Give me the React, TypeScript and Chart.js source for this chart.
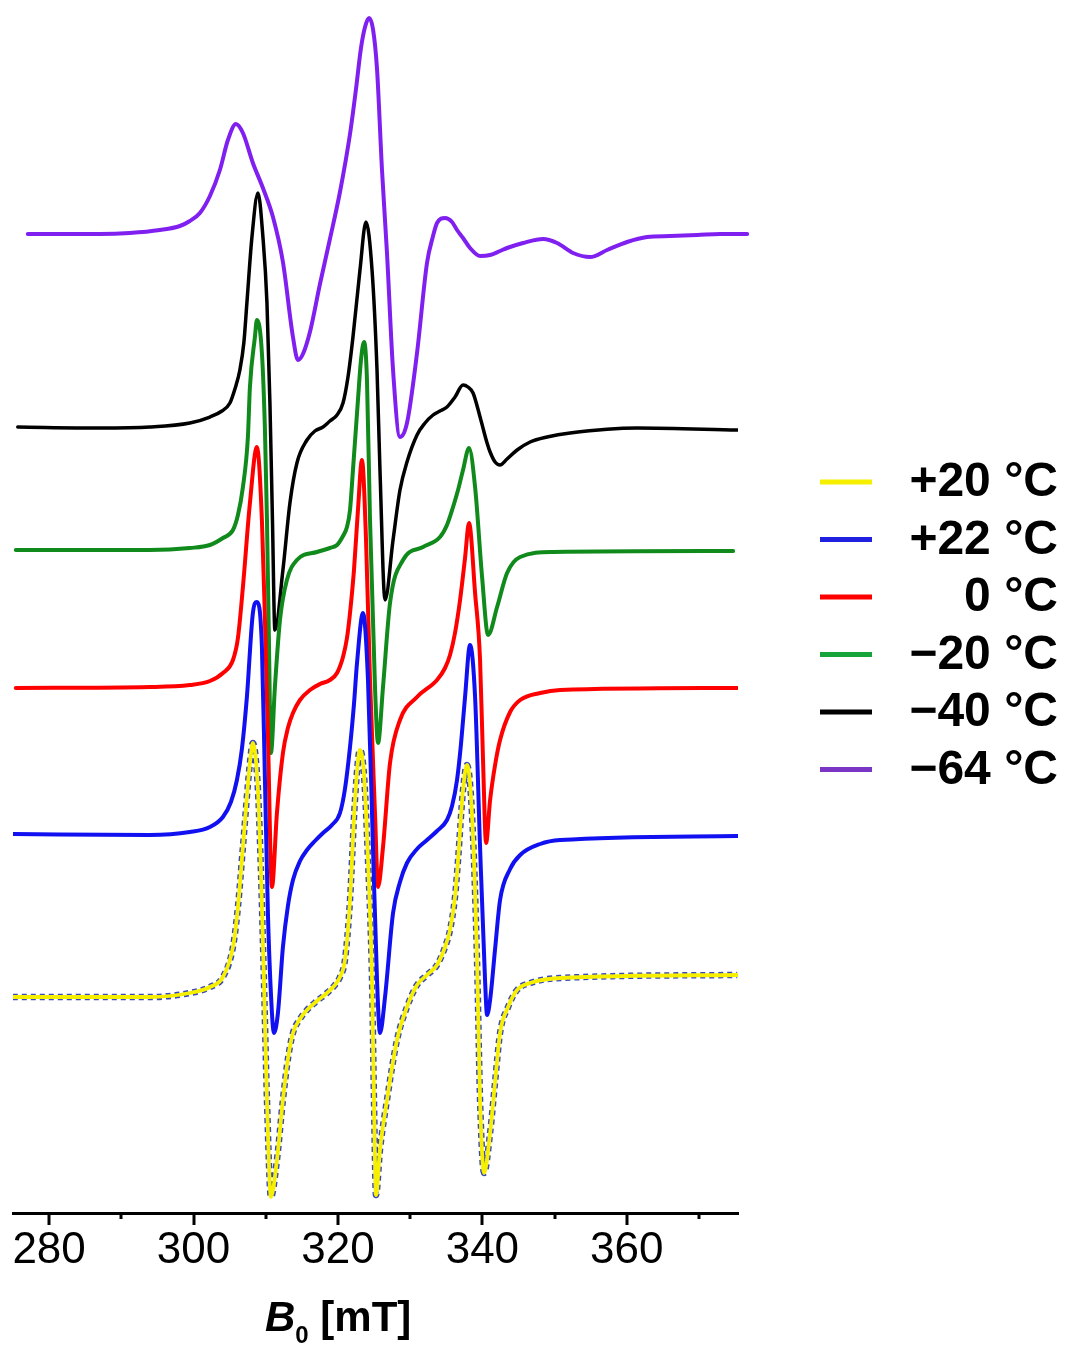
import { useEffect, useRef } from 'react';
import { Chart, registerables } from 'chart.js';

Chart.register(...registerables);

// ---- data (field in mT, signal in arbitrary units relative to each trace's baseline) ----
const fieldM64 = [277.05, 287.02, 291.18, 295.34, 298.11, 299.49, 300.88, 302.27, 303.65, 304.76, 305.87, 306.84, 308.22, 309.61, 311.0, 312.38, 313.77, 314.46, 315.15, 316.12, 317.51, 318.89, 320.28, 321.67, 322.5, 323.19, 323.75, 324.3, 324.85, 325.41, 326.1, 326.79, 327.63, 328.59, 329.56, 330.95, 332.33, 333.17, 333.72, 334.83, 335.8, 336.49, 337.32, 338.29, 339.68, 341.07, 342.45, 343.42, 345.64, 348.41, 350.35, 352.56, 354.92, 357.27, 360.04, 362.81, 366.0, 369.74, 372.93, 376.67];
const signalM64 = [0, 0, 1, 4, 8, 13, 21, 38, 64, 94, 110, 101, 71, 46, 17, -28, -103, -126, -120, -98, -50, -5, 42, 100, 145, 186, 207, 216, 205, 165, 64, -19, -136, -203, -189, -119, -29, -2, 11, 16, 12, 4, -4, -14, -22, -21, -17, -14, -9, -5, -9, -19, -23, -16, -8, -3, -2, -1, 0, 0];

const fieldM40 = [275.66, 287.02, 293.95, 299.49, 302.27, 303.93, 305.04, 305.73, 306.42, 306.98, 307.39, 308.09, 308.92, 309.61, 310.17, 310.58, 310.93, 311.27, 312.38, 313.35, 314.32, 315.71, 316.81, 317.93, 318.89, 319.87, 320.7, 321.39, 322.08, 323.05, 323.88, 324.72, 325.41, 325.82, 326.52, 327.63, 328.59, 329.56, 330.95, 332.06, 333.17, 334.13, 335.1, 336.21, 337.32, 338.01, 338.71, 339.68, 340.65, 341.07, 341.76, 342.45, 343.42, 344.81, 346.61, 348.96, 352.15, 361.43, 375.29];
const signalM40 = [0, -1, 0, 4, 10, 16, 24, 38, 57, 85, 124, 190, 234, 190, 124, 24, -93, -203, -143, -76, -36, -13, -4, 0, 6, 12, 24, 50, 90, 157, 205, 157, 57, -43, -173, -113, -63, -35, -8, 4, 12, 16, 20, 30, 42, 40, 34, 10, -16, -25, -35, -38, -32, -23, -15, -10, -6, -1, -3];

const fieldM20 = [275.39, 293.95, 299.49, 302.27, 304.07, 305.46, 306.15, 306.84, 307.53, 307.81, 308.5, 308.78, 309.47, 309.89, 310.17, 310.44, 310.72, 311.27, 311.97, 312.93, 314.32, 317.09, 318.89, 319.87, 320.7, 321.25, 321.67, 322.08, 322.77, 323.19, 323.61, 324.02, 324.44, 325.13, 325.55, 326.24, 327.21, 329.01, 331.78, 334.13, 335.1, 335.94, 336.63, 337.32, 338.15, 338.99, 339.96, 340.79, 342.04, 343.42, 345.23, 349.79, 374.73];
const signalM20 = [0, 0, 2, 5, 12, 20, 35, 63, 113, 163, 213, 230, 197, 120, 30, -90, -203, -137, -70, -30, -10, -2, 2, 5, 14, 23, 40, 80, 150, 190, 208, 170, 30, -137, -193, -137, -53, -10, 3, 13, 25, 43, 60, 80, 102, 63, -27, -85, -57, -23, -7, -2, -1];

const field0 = [275.39, 293.95, 299.49, 302.27, 304.07, 305.46, 306.15, 306.84, 307.81, 308.78, 309.47, 309.89, 310.3, 310.86, 311.55, 312.38, 313.07, 313.77, 314.74, 316.12, 317.51, 318.89, 319.87, 320.7, 321.25, 321.67, 322.22, 322.77, 323.33, 323.88, 324.44, 325.13, 325.55, 326.24, 327.21, 328.59, 330.95, 333.72, 334.83, 335.52, 336.21, 336.91, 337.6, 338.15, 338.99, 339.68, 340.09, 340.51, 341.07, 341.76, 342.45, 343.84, 345.23, 348.0, 350.76, 375.29];
const signal0 = [0, 1, 3, 7, 15, 28, 50, 101, 185, 241, 168, 68, -46, -199, -125, -65, -40, -25, -12, -2, 4, 8, 15, 31, 50, 75, 118, 178, 228, 150, 8, -125, -199, -159, -75, -32, -9, 8, 20, 33, 55, 88, 130, 165, 95, 28, -72, -155, -112, -77, -52, -24, -12, -5, -2, 0];

const fieldP22 = [275.11, 293.95, 299.49, 302.27, 304.07, 305.18, 306.01, 306.7, 307.39, 308.22, 308.78, 309.47, 309.89, 310.3, 310.86, 311.13, 311.69, 312.38, 313.07, 313.77, 314.74, 315.71, 316.81, 317.93, 319.17, 320.28, 320.97, 321.67, 322.22, 322.64, 323.47, 324.16, 324.85, 325.41, 325.82, 326.52, 327.63, 328.59, 329.56, 330.95, 332.33, 333.72, 335.1, 335.8, 336.49, 337.04, 337.6, 338.29, 338.99, 339.68, 340.37, 340.65, 341.07, 341.76, 342.45, 343.84, 345.23, 348.0, 350.76, 375.29];
const signalP22 = [0, -1, 2, 7, 17, 32, 54, 85, 137, 221, 232, 187, 54, -79, -179, -199, -179, -113, -72, -46, -27, -16, -7, 1, 9, 21, 45, 87, 130, 171, 221, 154, -13, -146, -199, -163, -79, -48, -29, -15, -6, 3, 14, 28, 54, 90, 137, 189, 137, -13, -146, -181, -166, -115, -66, -35, -21, -10, -6, -2];

const fieldP20 = [274.97, 287.02, 293.95, 299.49, 302.27, 304.07, 305.46, 306.15, 306.84, 307.81, 308.22, 308.92, 309.33, 309.75, 310.17, 310.72, 311.55, 312.38, 313.07, 313.77, 314.74, 315.71, 317.09, 318.48, 319.58, 320.28, 320.97, 321.67, 322.36, 323.05, 323.61, 324.16, 324.72, 324.99, 325.27, 325.82, 326.79, 328.18, 329.56, 330.95, 332.33, 333.72, 334.83, 335.52, 336.21, 336.63, 337.32, 337.87, 338.57, 339.26, 339.68, 340.23, 341.07, 341.76, 342.45, 343.56, 344.81, 346.61, 350.76, 375.29];
const signalP20 = [0, 0, 0, 4, 10, 20, 50, 90, 150, 234, 254, 207, 127, 17, -103, -200, -163, -103, -62, -36, -22, -13, -4, 4, 12, 20, 37, 97, 197, 247, 222, 137, 17, -103, -198, -153, -103, -43, -10, 12, 22, 32, 50, 67, 100, 137, 207, 232, 182, 37, -103, -176, -136, -85, -36, -10, 7, 14, 19, 22];

// vertical offsets of the stacked traces (a.u.)
const offsetM64 = 979;
const offsetM40 = 786;
const offsetM20 = 663;
const offset0 = 525;
const offsetP22 = 379;
const offsetP20 = 216;

const legendLabels = ['+20 °C', '+22 °C', '0 °C', '\u221220 °C', '\u221240 °C', '\u221264 °C'];
const legendColors = ['#f6f000', '#2020e0', '#ff0000', '#16a33a', '#000000', '#7a35c4'];

const majorTicks = [280, 300, 320, 340, 360];
const minorTicks = [290, 310, 330, 350, 370];

const FONT = '"Liberation Sans", Arial, Helvetica, sans-serif';

function pts(xs: number[], ys: number[], off: number) {
  return xs.map((x, i) => ({ x, y: off + ys[i] }));
}

const decor = {
  id: 'decor',
  afterDraw(chart: any) {
    const { ctx, chartArea } = chart;
    const xs = chart.scales.x;
    const yb = chartArea.bottom;
    ctx.save();
    ctx.strokeStyle = '#000';
    ctx.lineWidth = 3;
    ctx.lineCap = 'butt';
    for (const v of majorTicks) {
      const px = Math.round(xs.getPixelForValue(v));
      ctx.beginPath();
      ctx.moveTo(px, yb);
      ctx.lineTo(px, yb + 12);
      ctx.stroke();
    }
    for (const v of minorTicks) {
      const px = Math.round(xs.getPixelForValue(v));
      ctx.beginPath();
      ctx.moveTo(px, yb);
      ctx.lineTo(px, yb + 6);
      ctx.stroke();
    }
    // legend
    legendLabels.forEach((lab, i) => {
      const y = 482 + i * 57.5;
      ctx.strokeStyle = legendColors[i];
      ctx.lineWidth = 5;
      ctx.beginPath();
      ctx.moveTo(820, y);
      ctx.lineTo(872, y);
      ctx.stroke();
      ctx.fillStyle = '#000';
      ctx.font = 'bold 48px ' + FONT;
      ctx.textAlign = 'right';
      ctx.textBaseline = 'middle';
      ctx.fillText(lab, 1058, y + 1);
    });
    // axis title: B0 [mT]
    ctx.fillStyle = '#000';
    ctx.textAlign = 'left';
    ctx.textBaseline = 'alphabetic';
    let x = 265;
    const base = 1331;
    ctx.font = 'italic bold 42px ' + FONT;
    ctx.fillText('B', x, base);
    x += ctx.measureText('B').width;
    ctx.font = 'bold 24px ' + FONT;
    ctx.fillText('0', x, base + 12);
    x += ctx.measureText('0').width;
    ctx.font = 'bold 42px ' + FONT;
    ctx.fillText(' [mT]', x, base);
    ctx.restore();
  },
};

export default function App() {
  const ref = useRef<HTMLCanvasElement>(null);
  useEffect(() => {
    if (!ref.current) return;
    const line = (label: string, data: any[], color: string, width: number, extra: any = {}) => ({
      label,
      data,
      borderColor: color,
      backgroundColor: color,
      borderWidth: width,
      pointRadius: 0,
      fill: false,
      cubicInterpolationMode: 'monotone',
      borderCapStyle: 'round',
      borderJoinStyle: 'round',
      ...extra,
    });
    const chart = new Chart(ref.current, {
      type: 'line',
      data: {
        datasets: [
          line('+20 °C', pts(fieldP20, signalP20, offsetP20), '#f6f000', 3.8),
          line('+20 °C sim', pts(fieldP20, signalP20, offsetP20), '#3a48b8', 6.5, { borderDash: [5, 4], borderCapStyle: 'butt' }),
          line('+22 °C', pts(fieldP22, signalP22, offsetP22), '#1010f0', 4),
          line('0 °C', pts(field0, signal0, offset0), '#ff0000', 4),
          line('\u221220 °C', pts(fieldM20, signalM20, offsetM20), '#118a1c', 4),
          line('\u221240 °C', pts(fieldM40, signalM40, offsetM40), '#000000', 3.5),
          line('\u221264 °C', pts(fieldM64, signalM64, offsetM64), '#8020f0', 4, { clip: false }),
        ],
      },
      options: {
        animation: false,
        responsive: false,
        devicePixelRatio: 1,
        layout: { padding: { left: 13, right: 328, top: 10, bottom: 0 } },
        plugins: { legend: { display: false }, tooltip: { enabled: false }, title: { display: false } },
        scales: {
          x: {
            type: 'linear',
            min: 275,
            max: 375.4,
            afterFit: (s: any) => {
              s.height = 133;
            },
            grid: { display: false, drawTicks: false },
            border: { display: true, color: '#000', width: 3 },
            ticks: {
              stepSize: 10,
              includeBounds: false,
              autoSkip: false,
              maxRotation: 0,
              padding: 11,
              color: '#000',
              font: { family: FONT, size: 44 },
              callback: (v: any) => (majorTicks.includes(Number(v)) ? String(v) : ''),
            },
          },
          y: { display: false, min: 0, max: 1203 },
        },
      },
      plugins: [decor],
    } as any);
    return () => chart.destroy();
  }, []);
  return (
    <div style={{ position: 'absolute', left: 0, top: 0, width: 1066, height: 1346, background: '#fff' }}>
      <canvas ref={ref} width={1066} height={1346} />
    </div>
  );
}
